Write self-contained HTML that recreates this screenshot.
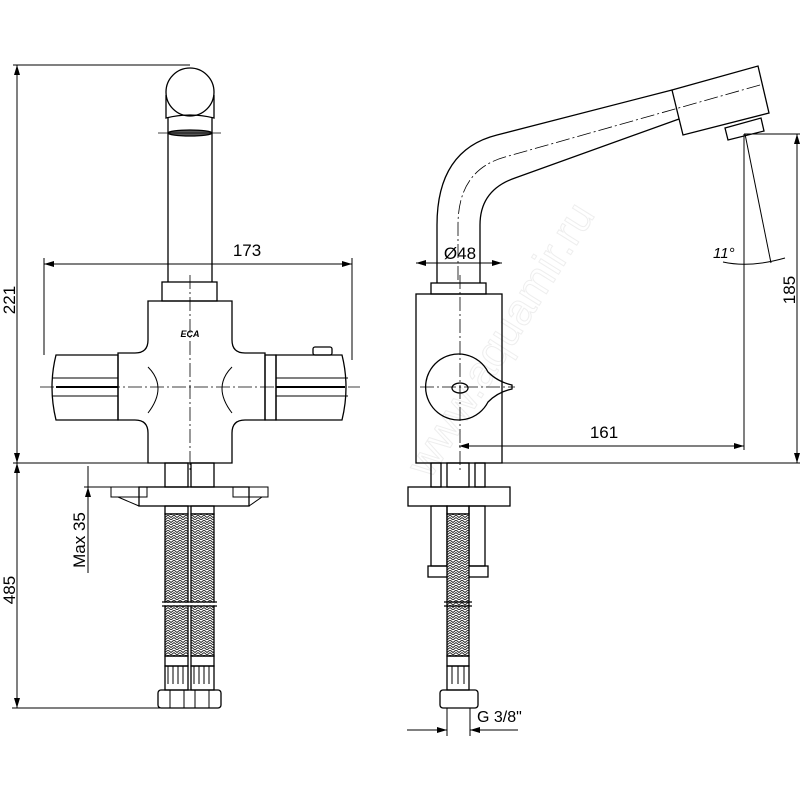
<!DOCTYPE html>
<html><head><meta charset="utf-8"><style>html,body{margin:0;padding:0;background:#fff}svg{display:block}</style></head>
<body>
<svg width="800" height="800" viewBox="0 0 800 800" xmlns="http://www.w3.org/2000/svg" font-family="Liberation Sans, sans-serif">
<defs>
<pattern id="braid" width="6" height="5" patternUnits="userSpaceOnUse">
<rect width="6" height="5" fill="#fff"/>
<path d="M0 0 L3 2.5 L6 0 M0 2.5 L3 5 L6 2.5" stroke="#222" stroke-width="0.9" fill="none"/>
</pattern>
<marker id="ar" viewBox="0 0 10 6" refX="10" refY="3" markerWidth="10" markerHeight="6" orient="auto-start-reverse" markerUnits="userSpaceOnUse"><path d="M0 0 L10 3 L0 6 Z" fill="#000"/></marker>
</defs>
<rect width="800" height="800" fill="#fff"/>
<text x="430" y="480" transform="rotate(-58 430 480)" font-size="44" fill="none" stroke="#eeeeee" stroke-width="1">www.aquamir.ru</text>
<g stroke="#000" stroke-width="1.3" fill="none">
<!-- LEFT VIEW -->
<line x1="13" y1="65" x2="190" y2="65" stroke-width="1"/>
<line x1="17" y1="65" x2="17" y2="463" stroke-width="1" marker-start="url(#ar)" marker-end="url(#ar)"/>
<line x1="13" y1="463" x2="190" y2="463" stroke-width="1"/>
<line x1="17" y1="463" x2="17" y2="708" stroke-width="1" marker-start="url(#ar)" marker-end="url(#ar)"/>
<line x1="12" y1="708" x2="205" y2="708" stroke-width="1"/>
<line x1="88" y1="573" x2="88" y2="487" stroke-width="1" marker-end="url(#ar)"/>
<line x1="88" y1="466" x2="88" y2="487" stroke-width="1"/>
<line x1="84" y1="487" x2="111" y2="487" stroke-width="1"/>
<!-- head -->
<circle cx="190" cy="92" r="24"/>
<path d="M166 95 L166 118 Q190 112 214 118 L214 95"/>
<path d="M168 118 L168 282 M212 118 L212 282"/>
<ellipse cx="190" cy="133" rx="22" ry="3" fill="#555"/>
<line x1="158" y1="133" x2="221" y2="133" stroke-width="0.8"/>
<!-- 173 dim -->
<line x1="44" y1="258" x2="44" y2="355" stroke-width="1"/>
<line x1="352" y1="258" x2="352" y2="360" stroke-width="1"/>
<line x1="44" y1="264" x2="352" y2="264" stroke-width="1" marker-start="url(#ar)" marker-end="url(#ar)"/>
<!-- collar & body -->
<rect x="162" y="282" width="55" height="19"/>
<path d="M148 301 L232 301 L232 340 Q232 353 245 353 L265 353 L265 420 L245 420 Q232 420 232 433 L232 463 L148 463 L148 433 Q148 420 135 420 L118 420 L118 353 L135 353 Q148 353 148 340 Z"/>
<path d="M148 367 Q168 387 148 413 M232 367 Q212 387 232 413" stroke-width="1"/>
<!-- handles -->
<path d="M118 355 L56 355 Q48 387 56 420 L118 420 Z"/>
<path d="M52 378 L118 378 M52 396 L118 396" stroke-width="1"/>
<line x1="56" y1="387" x2="118" y2="387" stroke-width="2"/>
<rect x="265" y="355" width="11" height="65"/>
<path d="M276 355 L342 355 Q350 387 342 420 L276 420 Z"/>
<path d="M276 378 L348 378 M276 396 L348 396" stroke-width="1"/>
<line x1="276" y1="387" x2="345" y2="387" stroke-width="2"/>
<rect x="313" y="347" width="19" height="8" rx="2"/>
<line x1="40" y1="387" x2="360" y2="387" stroke-width="0.8" stroke-dasharray="14 3 2 3"/>
<line x1="190" y1="275" x2="190" y2="470" stroke-width="0.8" stroke-dasharray="14 3 2 3"/>
<!-- fittings & plate -->
<rect x="165" y="463" width="23" height="24"/><rect x="191" y="463" width="23" height="24"/>
<rect x="111" y="487" width="36" height="10" stroke-width="1"/>
<rect x="233" y="487" width="35" height="10" stroke-width="1"/>
<path d="M118 497 L139 506 M262 497 L249 506" stroke-width="1"/>
<rect x="139" y="487" width="110" height="19"/>
<rect x="165" y="506" width="23" height="8"/><rect x="191" y="506" width="23" height="8"/>
<rect x="165" y="514" width="23" height="142" fill="url(#braid)"/>
<rect x="191" y="514" width="23" height="142" fill="url(#braid)"/>
<line x1="162" y1="604" x2="217" y2="604" stroke-width="2.5" stroke="#fff"/>
<line x1="162" y1="602" x2="217" y2="602"/><line x1="162" y1="606" x2="217" y2="606"/>
<rect x="165" y="656" width="23" height="10"/><rect x="191" y="656" width="23" height="10"/>
<path d="M168 666 v18 M173 666 v18 M178 666 v18 M183 666 v18 M194 666 v18 M199 666 v18 M204 666 v18 M209 666 v18" stroke-width="1"/>
<rect x="165" y="666" width="23" height="24"/><rect x="191" y="666" width="23" height="24"/>
<rect x="158" y="690" width="63" height="18" rx="3"/>
<path d="M170 690 v18 M184 690 v18 M195 690 v18 M209 690 v18" stroke-width="1"/>
<!-- RIGHT VIEW -->
<path d="M437 283 L437 225 Q437 150 497 135 L672 90"/>
<path d="M480 283 L480 225 Q480 190 515 178 L679 119"/>
<path d="M458 280 L458 225 Q458 170 505 157 L760 85" stroke-width="0.8" stroke-dasharray="14 3 2 3"/>
<path d="M672 90 L758 66 L769 113 L683 135 Z"/>
<path d="M725 128 L761 118 L764 131 L728 140 Z"/>
<rect x="431" y="283" width="55" height="11"/>
<rect x="416" y="294" width="86" height="169"/>
<line x1="416" y1="463" x2="800" y2="463" stroke-width="1"/>
<line x1="460" y1="275" x2="460" y2="470" stroke-width="0.8" stroke-dasharray="14 3 2 3"/>
<line x1="420" y1="387" x2="515" y2="387" stroke-width="0.8" stroke-dasharray="14 3 2 3"/>
<path d="M488 372 A33 33 0 1 0 488 402 Q498 392 512 389 L512 385 Q498 382 488 372 Z"/>
<ellipse cx="460" cy="388" rx="8" ry="5"/>
<line x1="416" y1="263" x2="502" y2="263" stroke-width="1" marker-start="url(#ar)" marker-end="url(#ar)"/>
<!-- 161, 185, 11 deg -->
<line x1="744" y1="134" x2="800" y2="134" stroke-width="1"/>
<line x1="744" y1="134" x2="744" y2="450" stroke-width="1"/>
<line x1="459" y1="446" x2="744" y2="446" stroke-width="1" marker-start="url(#ar)" marker-end="url(#ar)"/>
<line x1="797" y1="134" x2="797" y2="463" stroke-width="1" marker-start="url(#ar)" marker-end="url(#ar)"/>
<line x1="745" y1="134" x2="771" y2="263" stroke-width="1"/>
<path d="M723 262 Q750 268 785 258" stroke-width="1"/>
<!-- right bottom -->
<rect x="431" y="463" width="10" height="24"/><rect x="447" y="463" width="22" height="24"/><rect x="475" y="463" width="10" height="24"/>
<rect x="408" y="487" width="102" height="19"/>
<rect x="431" y="506" width="16" height="60"/><rect x="469" y="506" width="16" height="60"/>
<rect x="428" y="566" width="60" height="11"/>
<rect x="447" y="506" width="22" height="8"/>
<rect x="447" y="514" width="22" height="142" fill="url(#braid)"/>
<line x1="444" y1="602" x2="472" y2="602"/><line x1="444" y1="606" x2="472" y2="606"/>
<rect x="447" y="656" width="22" height="10"/>
<rect x="447" y="666" width="22" height="24"/>
<path d="M452 666 v18 M458 666 v18 M464 666 v18" stroke-width="1"/>
<rect x="440" y="690" width="38" height="18" rx="3"/>
<line x1="447" y1="708" x2="447" y2="736" stroke-width="1"/><line x1="470" y1="708" x2="470" y2="736" stroke-width="1"/>
<line x1="407" y1="730" x2="447" y2="730" stroke-width="1" marker-end="url(#ar)"/>
<line x1="518" y1="730" x2="470" y2="730" stroke-width="1" marker-end="url(#ar)"/>
</g>
<g font-size="17" fill="#000">
<text x="247" y="256" text-anchor="middle">173</text>
<text x="0" y="0" transform="translate(15 300) rotate(-90)" text-anchor="middle">221</text>
<text x="0" y="0" transform="translate(15 590) rotate(-90)" text-anchor="middle">485</text>
<text x="0" y="0" transform="translate(85 540) rotate(-90)" text-anchor="middle">Max 35</text>
<text x="460" y="259" text-anchor="middle">Ø48</text>
<text x="604" y="438" text-anchor="middle">161</text>
<text x="0" y="0" transform="translate(795 290) rotate(-90)" text-anchor="middle">185</text>
<text x="713" y="258" font-size="15" font-style="italic">11°</text>
<text x="477" y="722" font-size="16">G 3/8"</text>
<text x="190" y="337" font-size="9" font-style="italic" font-weight="bold" text-anchor="middle">ECA</text>
</g>
</svg>
</body></html>
